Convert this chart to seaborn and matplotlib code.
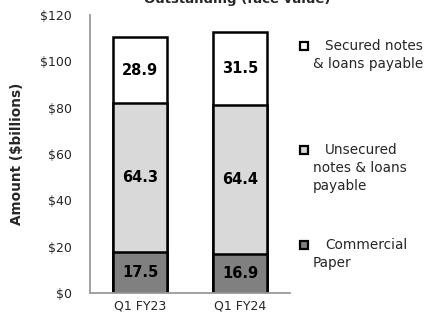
import matplotlib
matplotlib.use("Agg")
import matplotlib.pyplot as plt
import seaborn as sns
import numpy as np
import pandas as pd
from matplotlib.patches import Rectangle

categories = ["Q1 FY23", "Q1 FY24"]
commercial_paper = [17.5, 16.9]
unsecured = [64.3, 64.4]
secured = [28.9, 31.5]
yticks = [0, 20, 40, 60, 80, 100, 120]
ytick_labels = ["$0", "$20", "$40", "$60", "$80", "$100", "$120"]
legend_entries = [
    ("Secured notes", ["& loans payable"], "white"),
    ("Unsecured", ["notes & loans", "payable"], "#d9d9d9"),
    ("Commercial", ["Paper"], "#808080"),
]
title = "Outstanding (face value)"

sns.set_style("white")
plt.rcParams["font.family"] = ["DejaVu Sans"]

cp = np.array(commercial_paper)
un = np.array(unsecured)
se = np.array(secured)
df = pd.DataFrame({
    "cat": categories,
    "total": cp + un + se,
    "mid": cp + un,
    "low": cp,
})

W, H = 429, 320
fig = plt.figure(figsize=(W / 100, H / 100), dpi=100)
ax = fig.add_axes([90 / W, 1 - 293 / H, 200 / W, 278 / H])

for col, color in [("total", "white"), ("mid", "#d9d9d9"), ("low", "#808080")]:
    sns.barplot(data=df, x="cat", y=col, color=color, edgecolor="black",
                linewidth=1.8, width=0.54, saturation=1, ax=ax)

ax.set_xlim(-0.5, 1.5)
ax.set_ylim(0, 120)

# segment labels
for i in range(len(categories)):
    for val, base in [(cp[i], 0), (un[i], cp[i]), (se[i], cp[i] + un[i])]:
        ax.text(i, base + val / 2, f"{val:.1f}", ha="center", va="center",
                fontsize=10.5, fontweight="bold", color="black")

for s in ["top", "right"]:
    ax.spines[s].set_visible(False)
for s in ["left", "bottom"]:
    ax.spines[s].set_color("#9a9a9a")
    ax.spines[s].set_linewidth(1.3)

ax.set_yticks(yticks)
ax.set_yticklabels(ytick_labels, fontsize=9, color="#262626")
ax.tick_params(axis="y", length=0, pad=13)
ax.set_xticks(range(len(categories)))
ax.set_xticklabels(categories, fontsize=9, color="#262626")
ax.tick_params(axis="x", which="major", length=0, pad=5)
ax.set_xticks([-0.5, 0.5, 1.5], minor=True)
ax.tick_params(axis="x", which="minor", length=5, width=1.3, color="#9a9a9a", direction="out")
ax.set_xlabel("")
ax.set_ylabel("Amount ($billions)", fontsize=9.8, fontweight="bold")
ax.yaxis.set_label_coords((24 - 90) / 200, 0.5)

# title (partly cut off at top)
fig.text(237 / W, 1 - 3 / H, title, ha="center", va="baseline",
         fontsize=9.5, fontweight="bold")

# legend drawn manually
ys = [46, 150, 245]
for (first, rest, color), y in zip(legend_entries, ys):
    fig.patches.append(Rectangle((300 / W, 1 - (y + 4) / H), 8 / W, 8 / H,
                                 transform=fig.transFigure, facecolor=color,
                                 edgecolor="black", linewidth=1.6))
    fig.text(325 / W, 1 - y / H, first, ha="left", va="center", fontsize=9.8, color="#262626")
    for k, line in enumerate(rest):
        fig.text(313 / W, 1 - (y + 18 * (k + 1)) / H, line, ha="left", va="center",
                 fontsize=9.8, color="#262626")

fig.savefig("out.png", dpi=100)
